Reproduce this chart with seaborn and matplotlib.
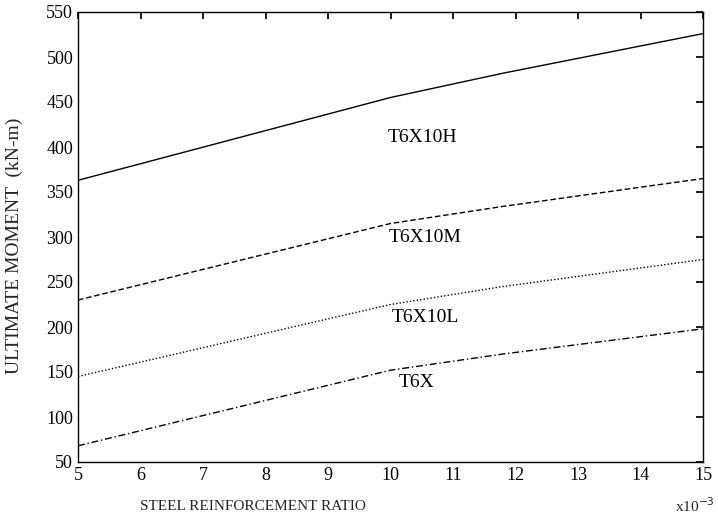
import matplotlib
matplotlib.use("Agg")
import matplotlib.pyplot as plt
import seaborn as sns
import pandas as pd

ratio = [5, 10, 11.8, 15]
t6x10h = [363, 455, 482, 526]
t6x10m = [230, 315, 334, 365]
t6x10l = [145, 225, 245, 275]
t6x = [68, 152, 170, 198]
series_names = ["T6X10H", "T6X10M", "T6X10L", "T6X"]
label_x = [10.52, 10.55, 10.55, 10.42]
label_y = [410, 299, 211, 138]
xticks = list(range(5, 16))
yticks = list(range(50, 551, 50))

sns.set_theme(style="white")
plt.rcParams["font.family"] = ["Liberation Serif", "DejaVu Serif"]

rows = []
for name, vals in zip(series_names, [t6x10h, t6x10m, t6x10l, t6x]):
    for x, y in zip(ratio, vals):
        rows.append({"ratio": x, "moment": y, "series": name})
df = pd.DataFrame(rows)

fig = plt.figure(figsize=(7.18, 5.24), dpi=100)
ax = fig.add_axes([78 / 718, 1 - 462 / 524, (703 - 78) / 718, (462 - 12) / 524])

styles = {"T6X10H": "-", "T6X10M": (0, (4, 2)), "T6X10L": (0, (1, 1.5)), "T6X": (0, (5, 2, 1, 2))}
for name in series_names:
    sub = df[df.series == name]
    sns.lineplot(data=sub, x="ratio", y="moment", ax=ax, color="black",
                 linewidth=1.0, linestyle=styles[name], legend=False)

for name, lx, ly in zip(series_names, label_x, label_y):
    ax.text(lx, ly, name, ha="center", va="center", fontsize=14, color="black")

ax.set_xlim(5, 15)
ax.set_ylim(50, 550)
ax.set_xticks(xticks)
ax.set_yticks(yticks)
ax.tick_params(direction="in", top=True, right=True, length=5, labelsize=13, colors="black")
for s in ax.spines.values():
    s.set_color("black")
    s.set_linewidth(1.0)
ax.set_xlabel("")
ax.set_ylabel("")

fig.text(253 / 718, 1 - 506 / 524, "STEEL REINFORCEMENT RATIO", ha="center", va="center", fontsize=11)
fig.text(715 / 718, 1 - 506 / 524, "x10$^{-3}$", ha="right", va="center", fontsize=11)
fig.text(14 / 718, 1 - 246 / 524, "ULTIMATE MOMENT  (kN-m)", ha="center", va="center",
         rotation=90, fontsize=14)

fig.savefig("out.png", dpi=100, facecolor="white")
